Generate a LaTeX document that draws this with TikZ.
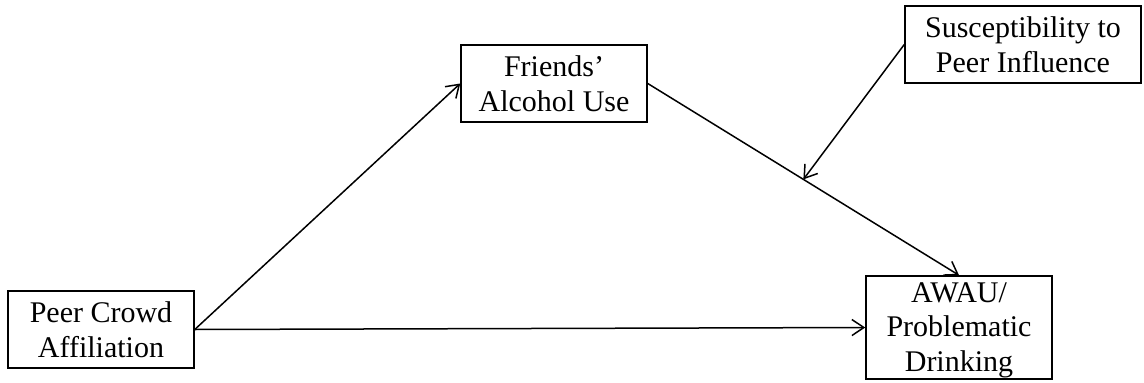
\documentclass[tikz,border=0pt]{standalone}
\usepackage{fontspec}
\setmainfont{Liberation Serif}
\usetikzlibrary{arrows.meta}
\usetikzlibrary{calc}

\begin{document}
\begin{tikzpicture}[
            x=1pt, y=-1pt,
            var node/.style={rectangle,draw,line width=1.5pt,align=center,inner sep=0pt,
                minimum width=186pt,minimum height=77pt,font=\fontsize{30}{35}\selectfont},
            label node/.style={align=center,inner sep=0pt,font=\fontsize{30}{34.5}\selectfont},
            path arrow/.style={line width=1.5pt,-{Straight Barb[length=12pt,width=16pt,line width=1.5pt]}},
            ]
            \useasboundingbox (0,0) rectangle (1144,383);

            \node[var node] (pca) at (101,329.5) {Peer Crowd\\Affiliation};
            \node[var node] (fau) at (554,83.5) {Friends’\\Alcohol Use};
            \node[var node, minimum width=236pt] (spi) at (1023,44.5) {Susceptibility to\\Peer Influence};
            \node[var node, minimum height=103pt] (awau) at (959,327.5) {};
            \node[label node] (awau text) at (959,330.25) {AWAU/\\Problematic\\Drinking};
            \coordinate (mod) at ($(fau.east)!0.5!(awau.north)$);

            \draw[path arrow] (pca.east) -- (fau.west);
            \draw[path arrow] (pca.east) -- (awau.west);
            \draw[path arrow] (fau.east) -- (awau.north);
            \draw[path arrow] (spi.west) -- (mod);
        \end{tikzpicture}
\end{document}
